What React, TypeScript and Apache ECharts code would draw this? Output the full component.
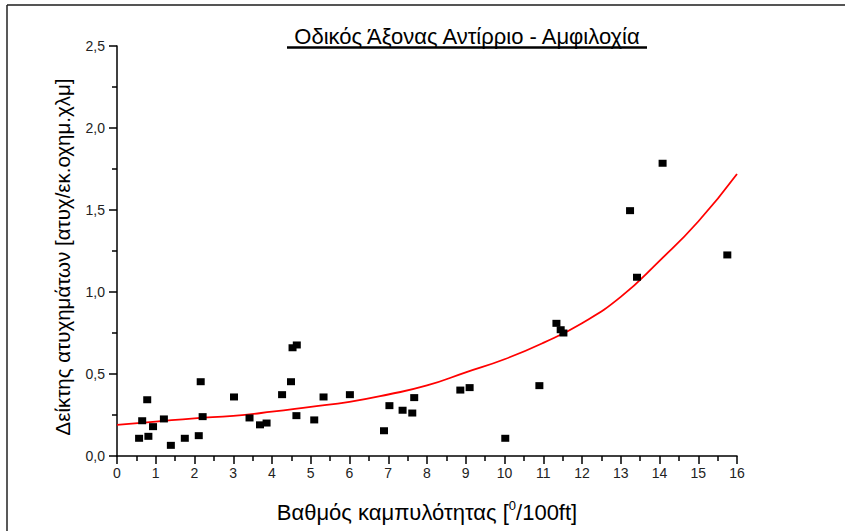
import React, { useEffect, useRef } from "react";
import * as echarts from "echarts";

// Curvature (deg/100ft) and accident rate of each road segment
const curvature = [
  0.57, 0.65, 0.78, 0.81, 0.93, 1.21, 1.39, 1.75, 2.11, 2.16, 2.21, 3.02, 3.42,
  3.69, 3.86, 4.26, 4.49, 4.53, 4.64, 4.63, 5.09, 5.33, 6.01, 6.89, 7.03, 7.37,
  7.62, 7.67, 8.86, 9.1, 10.02, 10.9, 11.34, 11.45, 11.52, 13.24, 13.42, 14.08,
  15.75,
];
const accidentRate = [
  0.108, 0.215, 0.343, 0.12, 0.179, 0.226, 0.065, 0.108, 0.124, 0.453, 0.24,
  0.36, 0.232, 0.19, 0.201, 0.374, 0.453, 0.66, 0.677, 0.246, 0.22, 0.36, 0.374,
  0.154, 0.307, 0.279, 0.262, 0.356, 0.402, 0.417, 0.108, 0.429, 0.809, 0.77,
  0.75, 1.496, 1.09, 1.785, 1.226,
];

// Trend curve read at whole curvature values
const trendX = [0, 1, 2, 3, 4, 5, 6, 7, 8, 9, 10, 11, 12, 13, 14, 15, 16];
const trendY = [
  0.19, 0.21, 0.23, 0.245, 0.27, 0.3, 0.33, 0.375, 0.43, 0.51, 0.59, 0.69,
  0.81, 0.97, 1.19, 1.43, 1.72,
];

const titleText = "Οδικός Άξονας Αντίρριο - Αμφιλοχία";
const yAxisTitle = "Δείκτης ατυχημάτων [ατυχ/εκ.οχημ.χλμ]";
const xAxisTitleMain = "Βαθμός καμπυλότητας [";
const xAxisTitleSup = "0";
const xAxisTitleEnd = "/100ft]";

const FONT = "'Liberation Sans', Arial, sans-serif";

export default function App() {
  const ref = useRef<HTMLDivElement>(null);

  useEffect(() => {
    if (!ref.current) return;
    const chart = echarts.init(ref.current, undefined, { renderer: "svg" });

    const commaFmt = (v: number) => v.toFixed(1).replace(".", ",");

    const tickStyle = { color: "#000", width: 1.5 };

    chart.setOption({
      animation: false,
      backgroundColor: "#ffffff",
      grid: { left: 117, right: 108, top: 46, bottom: 75 },
      xAxis: {
        type: "value",
        min: 0,
        max: 16,
        interval: 1,
        axisLine: { show: true, lineStyle: { color: "#000", width: 1.5 } },
        axisTick: { show: true, inside: false, length: 8, lineStyle: tickStyle },
        minorTick: { show: true, splitNumber: 2, length: 5, lineStyle: tickStyle },
        splitLine: { show: false },
        axisLabel: { color: "#222", fontSize: 14, fontFamily: FONT, margin: 10 },
      },
      yAxis: {
        type: "value",
        min: 0,
        max: 2.5,
        interval: 0.5,
        axisLine: { show: true, lineStyle: { color: "#000", width: 1.5 } },
        axisTick: { show: true, inside: false, length: 8, lineStyle: tickStyle },
        minorTick: { show: true, splitNumber: 2, length: 5, lineStyle: tickStyle },
        splitLine: { show: false },
        axisLabel: { color: "#222", fontSize: 14, fontFamily: FONT, margin: 12, formatter: commaFmt },
      },
      series: [
        {
          type: "line",
          data: trendX.map((x, i) => [x, trendY[i]]),
          smooth: true,
          showSymbol: false,
          lineStyle: { color: "#ff0000", width: 1.8 },
          z: 2,
        },
        {
          type: "scatter",
          data: curvature.map((x, i) => [x, accidentRate[i]]),
          symbol: "rect",
          symbolSize: [8, 7],
          itemStyle: { color: "#000", opacity: 1 },
          z: 3,
        },
      ],
      graphic: [
        { type: "line", shape: { x1: 7, y1: 5, x2: 845, y2: 5 }, style: { stroke: "#555", lineWidth: 2 } },
        { type: "line", shape: { x1: 7, y1: 5, x2: 7, y2: 531 }, style: { stroke: "#222", lineWidth: 1.5 } },
        {
          type: "text",
          x: 467,
          y: 36,
          style: { text: titleText, fontSize: 22, fontFamily: FONT, fill: "#000", align: "center", verticalAlign: "middle" },
        },
        { type: "line", shape: { x1: 287, y1: 47.5, x2: 647, y2: 47.5 }, style: { stroke: "#000", lineWidth: 2.5 } },
        {
          type: "text",
          x: 62,
          y: 257,
          rotation: Math.PI / 2,
          style: { text: yAxisTitle, fontSize: 20.5, fontFamily: FONT, fill: "#000", align: "center", verticalAlign: "middle" },
        },
        {
          type: "text",
          x: 427,
          y: 512,
          style: {
            text: `{n|${xAxisTitleMain}}{s|${xAxisTitleSup}}{n|${xAxisTitleEnd}}`,
            align: "center",
            verticalAlign: "middle",
            rich: {
              n: { fontSize: 22, fontFamily: FONT, fill: "#000", lineHeight: 26 },
              s: { fontSize: 13, fontFamily: FONT, fill: "#000", lineHeight: 13, verticalAlign: "top" },
            },
          },
        },
      ],
    });

    return () => chart.dispose();
  }, []);

  return (
    <div
      ref={ref}
      style={{ position: "fixed", left: 0, top: 0, width: 845, height: 531 }}
    />
  );
}
